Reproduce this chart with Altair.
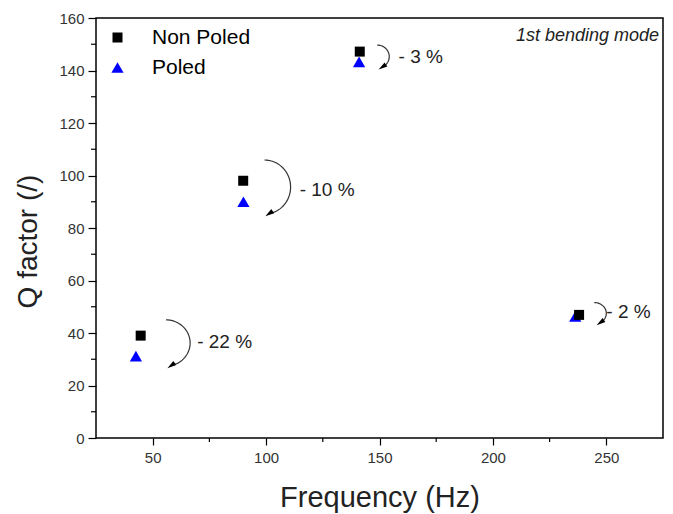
import altair as alt
import numpy as np
import pandas as pd

# ---- data ----
series_names = ["Non Poled", "Poled"]
freq_nonpoled = [44.7, 89.9, 141.3, 238.0]
q_nonpoled = [39.0, 98.0, 147.2, 46.9]
freq_poled = [42.6, 90.0, 141.0, 236.3]
q_poled = [31.2, 90.0, 143.3, 46.3]

pct_labels = ["- 22 %", "- 10 %", "- 3 %", "- 2 %"]
pct_x = [69.6, 114.8, 158.4, 250.0]
pct_y = [36.6, 94.5, 145.3, 48.1]

# curved arrow annotations (centre, radii in data units, start/end angle)
arrow_cx = [55.9, 99.3, 149.0, 244.7]
arrow_cy = [36.2, 95.6, 145.3, 47.5]
arrow_rx = [10.6, 11.5, 5.3, 5.3]
arrow_ry = [8.8, 10.3, 4.4, 4.1]
arrow_t0 = [90, 90, 90, 90]
arrow_t1 = [-78, -80, -65, -60]
head_angle = [235, 235, 235, 235]

x_major = [50, 100, 150, 200, 250]
x_minor = [75, 125, 175, 225]
y_major = [0, 20, 40, 60, 80, 100, 120, 140, 160]
y_minor = [10, 30, 50, 70, 90, 110, 130, 150]

FONT = "Liberation Sans"
W, H = 567, 420

# ---- tables ----
rows = []
for f, q in zip(freq_poled, q_poled):
    rows.append({"f": f, "q": q, "series": "Poled"})
for f, q in zip(freq_nonpoled, q_nonpoled):
    rows.append({"f": f, "q": q, "series": "Non Poled"})
pts = pd.DataFrame(rows)
pts["order"] = range(len(pts))

arc_rows, head_rows = [], []
for i in range(len(arrow_cx)):
    th = np.radians(np.linspace(arrow_t0[i], arrow_t1[i], 40))
    for k, t in enumerate(th):
        arc_rows.append({"id": i, "k": k,
                         "f": arrow_cx[i] + arrow_rx[i] * np.cos(t),
                         "q": arrow_cy[i] + arrow_ry[i] * np.sin(t)})
    t = np.radians(arrow_t1[i])
    head_rows.append({"f": arrow_cx[i] + arrow_rx[i] * np.cos(t),
                      "q": arrow_cy[i] + arrow_ry[i] * np.sin(t),
                      "angle": head_angle[i]})
arcs = pd.DataFrame(arc_rows)
heads = pd.DataFrame(head_rows)
labels = pd.DataFrame({"f": pct_x, "q": pct_y, "t": pct_labels})

xscale = alt.Scale(domain=[25, 275], nice=False, zero=False)
yscale = alt.Scale(domain=[0, 160], nice=False, zero=False)

leg = alt.Legend(title=None, orient="none", legendX=11, legendY=9,
                 labelFont=FONT, labelFontSize=21, labelColor="black",
                 rowPadding=8, labelOffset=24,
                 padding=0, symbolStrokeWidth=0)

points = alt.Chart(pts).mark_point(filled=True, opacity=1).encode(
    x=alt.X("f:Q", scale=xscale,
            axis=alt.Axis(values=x_major, title="Frequency (Hz)", grid=False, domain=False,
                          tickSize=7, tickColor="black", tickWidth=1.2,
                          labelFont=FONT, labelFontSize=15, labelColor="#333333", labelPadding=5,
                          titleFont=FONT, titleFontSize=29, titleFontWeight="normal",
                          titleColor="#222222", titleX=W / 2, titleY=68,
                          titleAlign="center", titleBaseline="alphabetic")),
    y=alt.Y("q:Q", scale=yscale,
            axis=alt.Axis(values=y_major, title="Q factor (/)", grid=False, domain=False,
                          tickSize=8, tickColor="black", tickWidth=1.2,
                          labelFont=FONT, labelFontSize=15, labelColor="#333333", labelPadding=4,
                          titleFont=FONT, titleFontSize=28, titleFontWeight="normal",
                          titleColor="#222222", titleX=-60, titleY=223,
                          titleAngle=-90, titleAlign="center", titleBaseline="alphabetic")),
    shape=alt.Shape("series:N",
                    scale=alt.Scale(domain=series_names, range=["square", "triangle-up"]),
                    legend=leg),
    color=alt.Color("series:N",
                    scale=alt.Scale(domain=series_names, range=["black", "#0000FF"]),
                    legend=leg),
    size=alt.Size("series:N",
                  scale=alt.Scale(domain=series_names, range=[100, 150]),
                  legend=leg),
    order=alt.Order("order:Q"),
)

frame = alt.Chart(pd.DataFrame({"a": [0]})).mark_rect(
    fill=None, stroke="black", strokeWidth=1.5
).encode(
    x=alt.value(0), x2=alt.value(W), y=alt.value(0), y2=alt.value(H),
)

arc_lines = alt.Chart(arcs).mark_line(color="#333333", strokeWidth=1.2).encode(
    x="f:Q", y="q:Q", detail="id:N", order="k:Q",
)

arrow_heads = alt.Chart(heads).mark_point(
    shape="M0,-1L0.55,1L-0.55,1Z", filled=True, color="black", opacity=1, size=80
).encode(
    x="f:Q", y="q:Q",
    angle=alt.Angle("angle:Q", scale=None),
)

pct_text = alt.Chart(labels).mark_text(
    align="left", baseline="middle", font=FONT, fontSize=19, color="#222222"
).encode(
    x="f:Q", y="q:Q", text="t:N",
)

minor_y = alt.Chart(pd.DataFrame({"q": y_minor})).mark_rule(color="black", strokeWidth=1.2).encode(
    y="q:Q", x=alt.value(0), x2=alt.value(-5),
)
minor_x = alt.Chart(pd.DataFrame({"f": x_minor})).mark_rule(color="black", strokeWidth=1.2).encode(
    x="f:Q", y=alt.value(H), y2=alt.value(H + 4),
)

mode_text = alt.Chart(pd.DataFrame({"t": ["1st bending mode"]})).mark_text(
    align="right", baseline="middle", font=FONT, fontSize=18, fontStyle="italic", color="#222222"
).encode(
    x=alt.value(W - 4), y=alt.value(18), text="t:N",
)

chart = alt.layer(points, frame, minor_y, minor_x, arc_lines, arrow_heads, pct_text, mode_text).properties(
    width=W, height=H,
    autosize=alt.AutoSizeParams(type="none"),
    padding={"left": 88, "top": 10, "right": 2, "bottom": 76},
    background="white",
).configure_view(stroke=None)

chart.save("out.html", embed_options={"renderer": "svg", "actions": False})
